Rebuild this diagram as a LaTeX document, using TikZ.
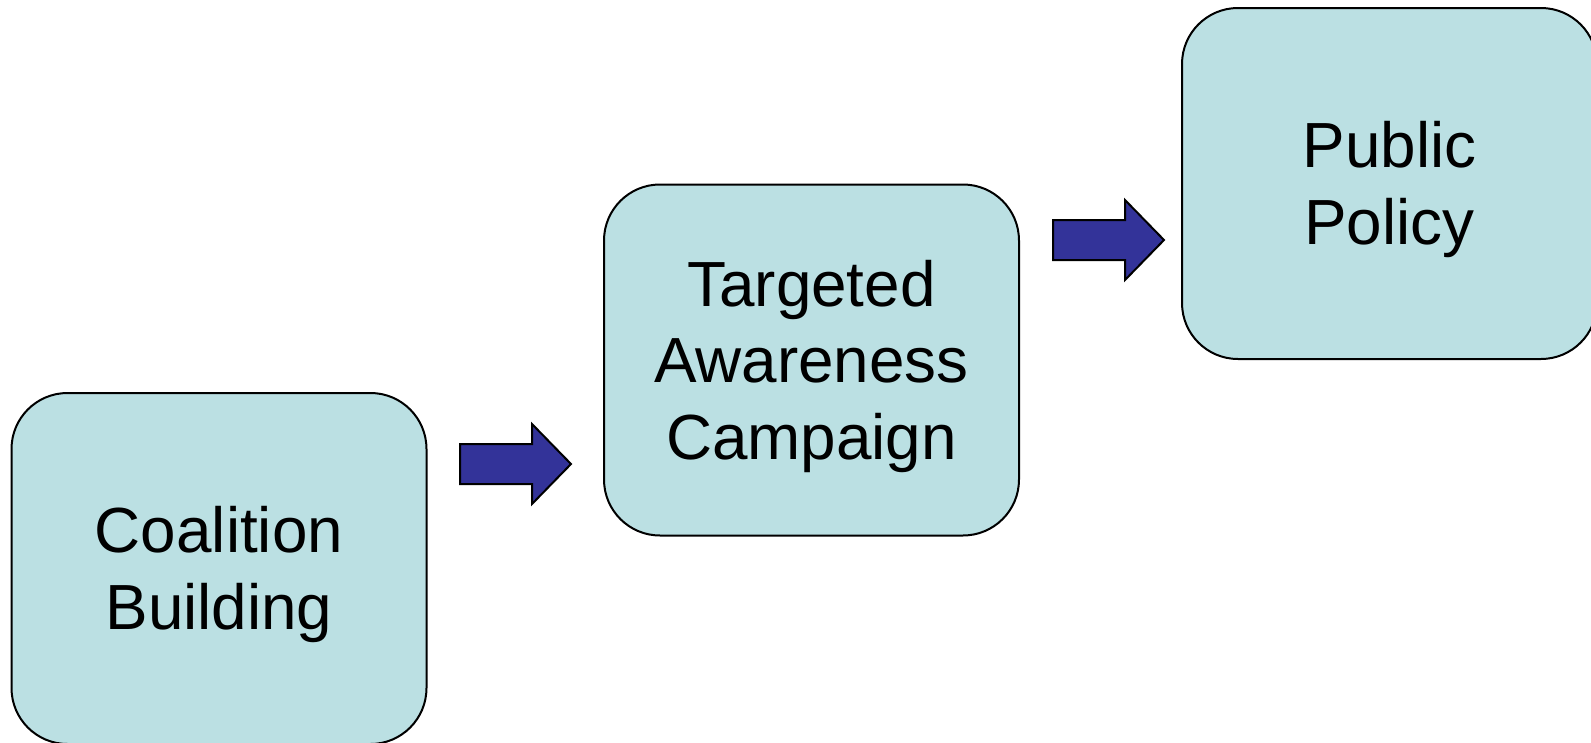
\documentclass[tikz,border=0pt]{standalone}
\usepackage{fontspec}
\setmainfont{Liberation Sans}
\usetikzlibrary{calc}
\begin{document}
\begin{tikzpicture}[x=1pt,y=-1pt,
  box/.style={draw=black, line width=2pt, fill=boxfill, rounded corners=56pt,
    minimum width=415pt, minimum height=351pt, inner sep=0pt},
  lbl/.style={align=center, inner sep=0pt, font=\fontsize{63.8}{76.5}\selectfont},
  blockarrow/.style={draw=black, line width=2pt, fill=arrowfill, line join=miter}]
\definecolor{boxfill}{RGB}{187,224,227}
\definecolor{arrowfill}{RGB}{51,51,153}
\useasboundingbox (0,0) rectangle (1591,742);
\clip (0,0) rectangle (1591,742);
\fill[white] (0,0) rectangle (1591,742);
% boxes
\node[box] (cb) at (219,568.5) {};
\node[box] (tac) at (811.5,360) {};
\node[box] (pp) at (1389.5,183.5) {};
% labels
\node[lbl] (cbt) at ($(cb.center)+(0,6)$) {Coalition\\Building};
\node[lbl] (tact) at ($(tac.center)+(0,6)$) {Targeted\\Awareness\\Campaign};
\node[lbl] (ppt) at ($(pp.center)+(0,6)$) {Public\\Policy};
% block arrows
\coordinate (a1) at (460,464);
\coordinate (a2) at (1053,240);
\foreach \c in {a1,a2}{
  \draw[blockarrow] (\c) ++(0,-20) -- ++(72,0) -- ++(0,-20) -- ++(39,40)
    -- ++(-39,40) -- ++(0,-20) -- ++(-72,0) -- cycle;
}
\end{tikzpicture}
\end{document}
